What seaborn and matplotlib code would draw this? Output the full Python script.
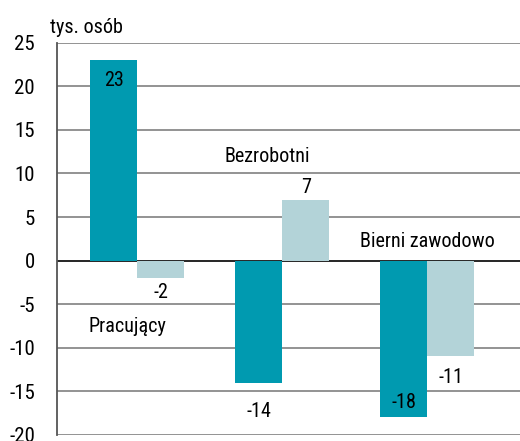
import pandas as pd
import matplotlib.pyplot as plt
import seaborn as sns
from matplotlib import font_manager

# Data
groups = ['Pracujący', 'Bezrobotni', 'Bierni zawodowo']
series = ['a', 'b']
values_a = [23, -14, -18]
values_b = [-2, 7, -11]
y_ticks = [-20, -15, -10, -5, 0, 5, 10, 15, 20, 25]

data = pd.DataFrame({
    'grupa': groups * 2,
    'seria': [series[0]] * 3 + [series[1]] * 3,
    'wartosc': values_a + values_b,
})

sns.set_style('white')
names = {f.name for f in font_manager.fontManager.ttflist}
fams = [n for n in ['Liberation Sans Narrow', 'DejaVu Sans Condensed', 'Roboto Condensed', 'Roboto']
        if n in names] + ['DejaVu Sans']
plt.rcParams['font.family'] = fams
plt.rcParams['text.color'] = 'black'

fig = plt.figure(figsize=(5.2, 4.41), dpi=100)
ax = fig.add_axes([0.11, 0.014, 0.89, 0.889])

sns.barplot(data=data, x='grupa', y='wartosc', hue='seria',
            palette=['#009AB0', '#B3D3D8'], saturation=1, width=0.65, gap=0,
            linewidth=0, legend=False, ax=ax, zorder=3)

ax.set_ylim(-20, 25)
ax.set_xlim(-0.552, 2.64)
ax.set_yticks(y_ticks)
ax.set_yticklabels([str(t) for t in y_ticks], fontsize=15)
ax.set_xticks([])
ax.set_xlabel('')
ax.set_ylabel('')

for t in y_ticks:
    ax.axhline(t, color='black' if t == 0 else '#8a8a8a',
               lw=1.2 if t == 0 else 1.3, zorder=1)

for s in ['top', 'right', 'bottom']:
    ax.spines[s].set_visible(False)
ax.spines['left'].set_color('#555555')
ax.spines['left'].set_linewidth(1.3)
ax.tick_params(axis='y', length=5, width=1.3, color='#555555', labelcolor='black', pad=11)

# value labels
off = 0.1625
fs = 14.5
ax.text(0 - off, values_a[0] - 1.2, '23', ha='center', va='top', fontsize=fs, zorder=4)
ax.text(0 + off, values_b[0] - 0.6, '-2', ha='center', va='top', fontsize=fs, zorder=4)
ax.text(1 - off, values_a[1] - 2.2, '-14', ha='center', va='top', fontsize=fs, zorder=4)
ax.text(1 + off, values_b[1] + 0.3, '7', ha='center', va='bottom', fontsize=fs, zorder=4)
ax.text(2 - off, values_a[2] + 0.6, '-18', ha='center', va='bottom', fontsize=fs, zorder=4)
ax.text(2 + off, values_b[2] - 1.3, '-11', ha='center', va='top', fontsize=fs, zorder=4)

# group labels
ax.text(-0.07, -7.6, groups[0], ha='center', va='center', fontsize=fs)
ax.text(0.9, 11.9, groups[1], ha='center', va='center', fontsize=fs)
ax.text(2.0, 2.2, groups[2], ha='center', va='center', fontsize=fs)

fig.text(0.096, 0.937, 'tys. osób', ha='left', va='center', fontsize=fs)

plt.savefig('out.png', dpi=100)
